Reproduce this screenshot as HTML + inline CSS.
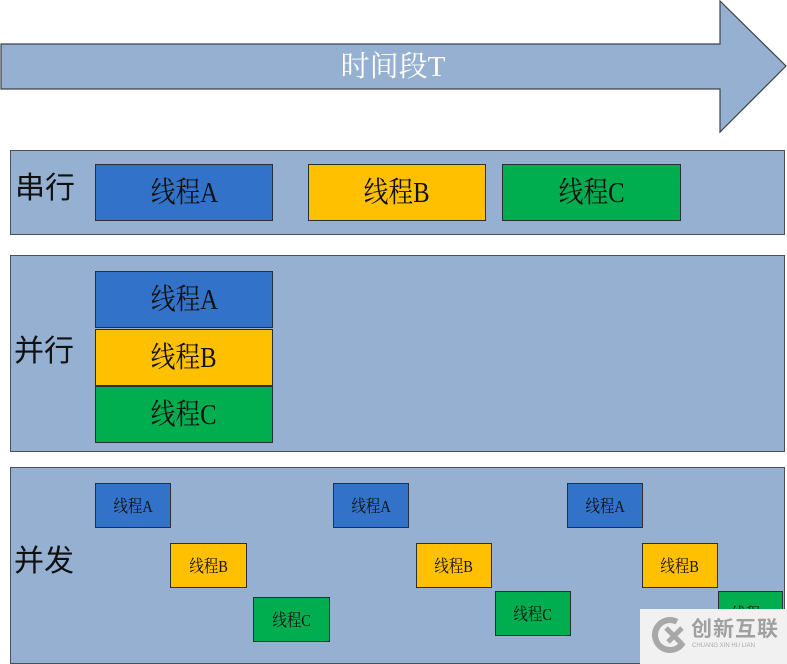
<!DOCTYPE html>
<html><head><meta charset="utf-8"><style>
html,body{margin:0;padding:0;background:#fff;width:787px;height:664px;overflow:hidden;position:relative}
.p{position:absolute;background:#95b0d0;border:1px solid #4a4f57;box-sizing:border-box}
.b{position:absolute;box-sizing:border-box;border:1px solid #2a2f36;display:flex;align-items:center;justify-content:center;font-family:"Liberation Serif","Noto Serif CJK SC",serif;color:#111;padding-bottom:5px}
.b span{display:inline-block;transform:scaleX(0.85)}
.L{font-size:29px}.S{font-size:17px;padding-bottom:3px}
.bl{background:#3273c9}.y{background:#ffc000}.g{background:#00ae4f}
.lab{position:absolute;font-family:"Liberation Sans","Noto Sans CJK SC",sans-serif;font-size:30px;color:#111;line-height:1}
</style></head><body>
<svg width="787" height="140" style="position:absolute;left:0;top:0">
<polygon points="1,44 720,44 720,1 786,66 720,132 720,89 1,89" fill="#95b0d0" stroke="#3d424a" stroke-width="1.2"/>
<text x="393" y="76" text-anchor="middle" fill="#fff" font-size="29" font-family="Liberation Serif, Noto Serif CJK SC, serif">时间段T</text>
</svg>
<div class="p" style="left:10px;top:150px;width:775px;height:85px"></div>
<div class="p" style="left:10px;top:255px;width:775px;height:197px"></div>
<div class="p" style="left:10px;top:467px;width:775px;height:197px"></div>
<div class="lab" style="left:15px;top:174px">串行</div>
<div class="lab" style="left:14px;top:337px">并行</div>
<div class="lab" style="left:14px;top:547px">并发</div>

<div class="b bl L" style="left:95px;top:164px;width:178px;height:57px"><span>线程A</span></div>
<div class="b y L" style="left:308px;top:164px;width:178px;height:57px"><span>线程B</span></div>
<div class="b g L" style="left:502px;top:164px;width:179px;height:57px"><span>线程C</span></div>

<div class="b bl L" style="left:95px;top:271px;width:178px;height:57px"><span>线程A</span></div>
<div class="b y L" style="left:95px;top:329px;width:178px;height:57px"><span>线程B</span></div>
<div class="b g L" style="left:95px;top:386px;width:178px;height:57px"><span>线程C</span></div>

<div class="b bl S" style="left:95px;top:483px;width:76px;height:45px"><span>线程A</span></div>
<div class="b y S" style="left:170px;top:543px;width:77px;height:45px"><span>线程B</span></div>
<div class="b g S" style="left:253px;top:597px;width:77px;height:45px"><span>线程C</span></div>
<div class="b bl S" style="left:333px;top:483px;width:76px;height:45px"><span>线程A</span></div>
<div class="b y S" style="left:416px;top:543px;width:76px;height:45px"><span>线程B</span></div>
<div class="b g S" style="left:495px;top:591px;width:76px;height:45px"><span>线程C</span></div>
<div class="b bl S" style="left:567px;top:483px;width:76px;height:45px"><span>线程A</span></div>
<div class="b y S" style="left:642px;top:543px;width:76px;height:45px"><span>线程B</span></div>
<div class="b g S" style="left:718px;top:591px;width:65px;height:45px"><span>线程C</span></div>

<div style="position:absolute;left:640px;top:609px;width:147px;height:55px;background:#f1f1f1"></div>
<svg width="50" height="50" style="position:absolute;left:648px;top:612px">
<circle cx="22" cy="23" r="15" fill="none" stroke="#a8a8a8" stroke-width="6" stroke-dasharray="70 30" transform="rotate(30 22 23)"/>
<path d="M18 16 L34 32 M34 16 L20 30" stroke="#a8a8a8" stroke-width="5"/>
</svg>
<div style="position:absolute;left:691px;top:619px;font-family:'Liberation Sans','Noto Sans CJK SC',sans-serif;font-size:21px;color:#a0a0a0;font-weight:bold;letter-spacing:1px;line-height:1">创新互联</div>
<div style="position:absolute;left:692px;top:643px;font-family:'Liberation Sans',sans-serif;font-size:6px;color:#aaa;line-height:1">CHUANG XIN HU LIAN</div>
</body></html>
